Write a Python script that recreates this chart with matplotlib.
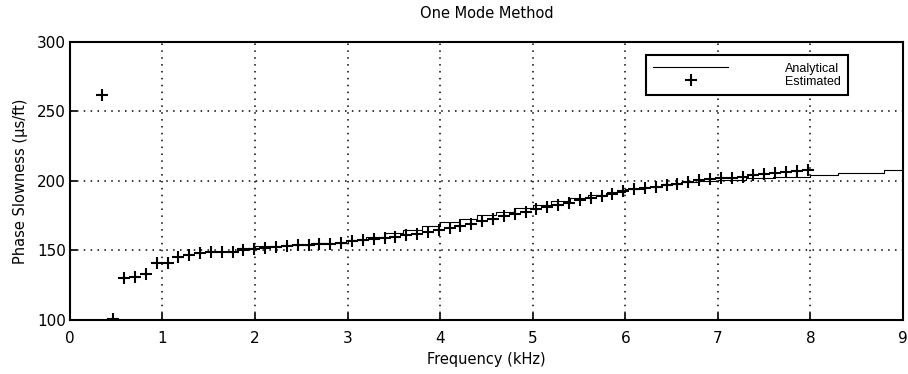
import numpy as np
import matplotlib
matplotlib.use("Agg")
import matplotlib.pyplot as plt

plt.rcParams['font.family'] = ['DejaVu Sans']

# estymowane punkty (krok ~0.117 kHz)
est_f = np.arange(3, 69) * 0.1172
est_s = [262, 101, 130, 131, 133, 141, 141, 145.5, 147, 148,
         149, 149, 149, 150.5, 151, 152, 152.5, 153, 154, 154,
         154.5, 155, 155.5, 156.5, 157.5, 158, 159, 160, 161, 162,
         163.5, 164.5, 166, 167.5, 169, 171, 173, 174.5, 176, 178,
         179.5, 181, 183, 184.5, 186, 187.5, 189, 191, 192.5, 194,
         195, 196, 197, 198, 199.5, 200.5, 201.5, 202, 202.5, 203,
         204, 205, 206, 206.5, 207, 208]

# krzywa analityczna (schodkowa)
ana_f = [1.8, 2.0, 2.3, 2.6, 3.0, 3.2, 3.4, 3.6, 3.8, 4.0, 4.2, 4.4, 4.6, 4.8,
         5.0, 5.2, 5.4, 5.6, 5.8, 6.0, 6.2, 6.4, 6.6, 6.8, 7.0, 7.3, 7.6,
         8.0, 8.3, 8.8, 9.0]
ana_s = [152, 153, 154, 155.5, 157.5, 160, 162.5, 165, 167.5, 170.5, 173, 175.5, 178, 180.5,
         183, 185.5, 188, 190, 192, 194, 196, 197.5, 199, 200, 201, 202, 203,
         204.5, 205.5, 208, 208]

fig = plt.figure(figsize=(9.08, 3.74), dpi=100)
ax = fig.add_axes([0.077, 0.1444, 0.9175, 0.7433])

ax.plot(ana_f, ana_s, color='black', lw=0.8, drawstyle='steps-post', label='Analytical')
ax.plot(est_f, est_s, ls='none', marker='+', ms=9, mew=1.5, color='black', label='Estimated')

ax.set_xlim(0, 9)
ax.set_ylim(100, 300)
ax.set_xticks(range(10))
ax.set_yticks([100, 150, 200, 250, 300])
ax.grid(True, color='black', ls=(0, (1, 3.5)), lw=1.1)
ax.tick_params(direction='in', length=5, width=1.2, labelsize=11, pad=3)
ax.tick_params(axis='x', pad=8)
for s in ax.spines.values():
    s.set_linewidth(1.5)

ax.set_title('One Mode Method', fontsize=10.5, pad=17)
ax.set_xlabel('Frequency (kHz)', fontsize=10.5, labelpad=4)
ax.set_ylabel('Phase Slowness (μs/ft)', fontsize=10.5, labelpad=6)

leg = ax.legend(loc='upper right', bbox_to_anchor=(0.934, 0.953),
                prop={'family': 'Liberation Sans', 'size': 9},
                handlelength=6.0, handletextpad=4.5, labelspacing=0.1,
                fancybox=False, framealpha=1, edgecolor='black',
                borderaxespad=0, borderpad=0.6)
leg.get_frame().set_linewidth(1.5)

fig.savefig('out.png', dpi=100)
